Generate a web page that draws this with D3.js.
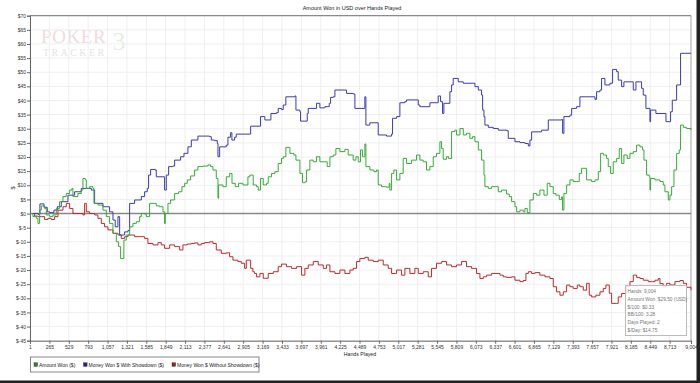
<!DOCTYPE html>
<html><head><meta charset="utf-8">
<script src="https://cdn.jsdelivr.net/npm/d3@7"></script>
<style>
html,body{margin:0;padding:0;background:#fff;}
svg{display:block;font-family:"Liberation Sans",Arial,sans-serif;}
</style></head>
<body><svg id="c" width="700" height="383"></svg>
<script>
// ---------- data ----------
const title = "Amount Won in USD over Hands Played";
const xLabel = "Hands Played";
const yLabel = "$";
const xTickValues = [1,265,529,793,1057,1321,1585,1849,2113,2377,2641,2905,3169,3433,3697,3961,4225,4489,4753,5017,5281,5545,5809,6073,6337,6601,6865,7129,7393,7657,7921,8185,8449,8713,9004];
const yTickValues = [70,65,60,55,50,45,40,35,30,25,20,15,10,5,0,-5,-10,-15,-20,-25,-30,-35,-40,-45];
const seriesNames = ["Amount Won ($)","Money Won $ With Showdown ($)","Money Won $ Without Showdown ($)"];

const amountWonHands = [1,41,87,109,132,155,200,223,268,314,359,404,450,495,541,572,586,654,699,722,754,768,813,858,872,926,995,1040,1085,1131,1176,1208,1235,1267,1280,1312,1358,1403,1449,1494,1517,1562,1585,1630,1676,1721,1766,1812,1834,1844,1880,1916,1971,2025,2070,2107,2143,2189,2243,2288,2357,2425,2461,2493,2538,2561,2570,2629,2674,2720,2752,2797,2842,2901,2969,2996,3041,3087,3110,3141,3178,3223,3246,3291,3337,3382,3427,3450,3486,3541,3595,3623,3677,3713,3745,3768,3813,3859,3904,3949,3995,4049,4086,4131,4167,4222,4290,4335,4403,4440,4472,4503,4531,4562,4576,4630,4685,4721,4744,4789,4857,4894,4903,4926,4957,4994,5039,5084,5130,5198,5266,5311,5357,5402,5448,5493,5538,5584,5607,5629,5675,5702,5743,5788,5811,5857,5902,5947,5992,6029,6061,6107,6152,6184,6197,6243,6288,6334,6379,6424,6492,6529,6561,6606,6629,6674,6719,6742,6774,6810,6856,6901,6946,7001,7046,7083,7128,7164,7210,7242,7255,7273,7310,7355,7400,7446,7482,7514,7559,7582,7650,7696,7741,7773,7809,7854,7877,7909,7945,7991,8027,8059,8090,8136,8172,8218,8263,8309,8345,8363,8399,8436,8445,8454,8513,8581,8626,8649,8694,8717,8740,8772,8808,8844,8862,8899,8944,9004];
const amountWonValues = [0,-1.1,-1.7,-3.5,1.2,2.7,1.8,-0.5,-1.1,-0.5,1.8,4.2,6.0,7.1,8.3,8.9,6.0,7.1,8.3,12.4,11.9,8.9,9.5,8.9,3.6,3.0,1.2,-1.1,-3.5,-7.0,-10.0,-11.7,-15.9,-15.9,-9.4,-7.6,-4.7,-3.5,-2.9,-1.1,0,-0.2,-1.1,3.6,3.6,2.7,2.4,0.6,-3.5,0,3.6,4.8,7.1,7.7,9.5,10.7,11.9,13.3,15.4,16.6,16.8,17.2,16.6,15.4,12.4,5.4,10.1,9.5,13.0,14.2,10.7,9.5,10.7,10.1,13.0,13.6,10.1,9.5,8.3,12.4,10.1,10.7,13.0,14.2,14.8,17.7,19.5,20.1,23.4,21.3,20.7,18.9,14.2,10.9,11.2,15.4,18.9,18.3,20.1,18.3,18.3,16.6,20.1,20.7,23.0,21.9,22.7,20.7,18.9,20.1,18.3,22.5,20.1,24.6,16.6,15.4,14.8,15.4,10.1,9.5,9.3,10.7,8.3,14.2,15.4,11.9,14.2,19.5,17.7,18.9,20.7,18.9,18.3,15.4,16.6,20.1,21.3,25.4,23.0,19.2,20.1,19.5,29.0,29.5,27.8,30.1,27.8,28.4,26.6,27.2,25.4,22.5,18.9,13.6,9.5,8.9,9.5,9.5,7.7,8.3,6.9,6.0,4.2,2.4,0.6,1.2,0.6,1.8,0.3,4.8,7.1,6.5,8.3,6.5,10.7,9.5,7.1,6.5,5.0,5.9,1.2,7.1,10.1,11.9,11.3,11.3,14.2,16.0,16.0,11.9,11.3,11.9,14.8,21.3,20.7,19.5,16.6,14.2,18.3,19.5,23.0,17.7,20.7,19.5,21.3,21.9,24.2,23.6,22.5,18.9,13.6,13.0,8.3,12.4,11.9,11.3,10.1,7.7,4.8,6.5,9.5,15.4,21.3,22.5,31.3,30.5,30.1,29.5];

const withShowdownHands = [1,109,136,191,236,268,327,373,427,518,609,699,836,881,995,1085,1131,1162,1199,1222,1290,1335,1358,1426,1517,1562,1598,1616,1644,1707,1721,1834,1857,1889,1948,1971,2052,2098,2152,2198,2288,2447,2470,2515,2552,2561,2584,2674,2697,2733,2751,2788,2810,3006,3141,3200,3282,3359,3382,3427,3450,3486,3609,3623,3677,3686,3777,3791,3904,3949,4018,4077,4095,4131,4154,4313,4403,4426,4562,4576,4630,4744,4857,4926,4939,4994,5039,5107,5130,5289,5311,5448,5561,5593,5620,5638,5720,5743,5765,5834,5902,6061,6107,6152,6166,6184,6197,6243,6311,6379,6492,6515,6606,6674,6742,6788,6810,6833,6969,7060,7242,7255,7273,7355,7378,7446,7491,7696,7718,7764,7786,7832,7900,7936,7991,8013,8059,8090,8218,8254,8331,8354,8390,8445,8454,8526,8663,8726,8749,8808,8862,9004];
const withShowdownValues = [0,-0.3,3.4,2.2,0.6,0.3,1.2,2.4,4.2,6.5,7.7,8.9,8.3,3.6,2.4,0.6,-2.3,-4.7,-1.1,-7.6,-6.5,-6.0,3.6,4.8,6.0,7.7,8.9,13.6,15.6,15.4,13.0,8.3,13.6,16.6,16.8,18.9,20.1,21.3,23.6,26.0,27.4,27.2,26.0,25.8,24.8,20.1,23.6,24.2,27.0,28.6,26.0,27.0,28.1,30.9,34.3,33.1,35.4,35.7,37.2,36.8,38.4,41.3,41.6,36.6,36.0,32.7,35.4,37.2,39.0,37.4,37.8,39.0,41.1,41.3,43.7,42.5,42.3,37.2,41.3,31.3,32.1,27.8,27.4,28.1,33.7,34.3,39.2,39.6,40.2,38.4,37.8,39.2,41.6,39.6,35.4,39.0,43.1,45.5,47.8,46.6,46.1,44.9,43.7,41.9,36.6,34.3,31.3,30.5,30.1,29.5,29.3,26.6,25.4,25.1,24.8,23.9,26.0,28.9,29.5,33.1,33.3,28.4,34.3,34.8,37.2,37.8,41.3,40.4,43.1,43.7,47.8,45.5,46.1,51.0,50.2,47.2,44.9,46.6,43.7,46.6,44.3,41.9,37.2,32.5,36.6,35.4,32.5,36.0,40.1,45.5,56.7,56.7];

const withoutShowdownHands = [1,64,109,155,200,245,291,336,382,450,495,541,586,654,722,745,768,813,881,926,972,1017,1063,1131,1199,1244,1290,1335,1380,1426,1494,1562,1607,1676,1744,1789,1834,1903,1971,2016,2039,2084,2143,2198,2243,2288,2334,2379,2447,2493,2538,2606,2674,2720,2765,2833,2879,2924,2947,2969,3006,3037,3060,3087,3132,3178,3246,3314,3382,3427,3495,3564,3632,3700,3745,3791,3859,3927,3995,4040,4086,4154,4222,4290,4358,4403,4449,4494,4562,4608,4676,4744,4812,4880,4926,4994,5062,5107,5175,5243,5289,5357,5425,5470,5538,5607,5675,5743,5811,5879,5947,6015,6083,6129,6175,6220,6288,6334,6402,6447,6492,6561,6606,6674,6719,6756,6788,6833,6878,6946,7015,7083,7128,7173,7219,7264,7310,7355,7400,7455,7491,7537,7582,7618,7650,7709,7764,7809,7845,7891,7923,7991,8013,8059,8127,8172,8218,8263,8309,8354,8422,8481,8513,8558,8581,8626,8672,8717,8785,8853,8899,8944,9004];
const withoutShowdownValues = [0,-0.9,-1.1,-1.1,-2.1,-1.7,-2.1,-1.1,1.2,2.4,3.6,1.8,0,0,-0.5,3.6,0.6,0,-0.5,-1.7,-3.5,-4.7,-5.8,-7.0,-7.6,-8.8,-8.2,-7.6,-7.6,-8.2,-8.2,-8.8,-10.6,-11.1,-10.3,-11.1,-12.3,-11.1,-11.7,-11.7,-12.9,-11.1,-10.8,-10.6,-10.4,-11.1,-10.6,-10.3,-10.0,-10.6,-12.9,-14.1,-13.9,-15.3,-16.5,-17.0,-17.6,-19.4,-16.5,-16.5,-19.4,-20.6,-21.2,-22.4,-21.2,-22.9,-21.2,-20.6,-18.8,-17.9,-18.8,-19.4,-18.8,-21.8,-19.4,-18.2,-17.0,-18.2,-19.4,-18.2,-20.6,-21.2,-20.0,-21.2,-20.0,-19.4,-17.0,-15.9,-15.5,-16.5,-17.0,-16.5,-18.2,-19.4,-21.2,-20.0,-21.8,-19.4,-21.2,-19.4,-21.2,-20.6,-22.4,-19.4,-17.6,-17.0,-18.2,-18.8,-18.2,-17.0,-18.8,-19.4,-21.2,-23.0,-22.4,-21.8,-21.2,-21.2,-21.8,-22.4,-22.6,-22.4,-23.6,-24.1,-23.7,-21.2,-20.6,-21.2,-20.9,-21.8,-22.4,-23.0,-25.9,-27.7,-28.9,-27.7,-25.3,-25.9,-26.5,-25.3,-25.9,-27.1,-24.7,-28.9,-29.5,-28.9,-27.7,-26.5,-25.3,-28.2,-31.8,-31.8,-29.5,-28.3,-25.9,-24.1,-21.8,-22.6,-23.0,-23.6,-24.1,-24.1,-23.6,-23.0,-24.8,-25.9,-24.7,-25.3,-24.1,-23.7,-24.7,-26.1,-27.1];

const tooltipLines = ["Hands: 9,004","Amount Won: $29.50 (USD)","$/100: $0.33","BB/100: 3.28","Days Played: 2","$/Day: $14.75"];

// ---------- chart ----------
const svg = d3.select("#c");
const L = 30, R = 691, T = 15.7, B = 340.7;
const x = d3.scaleLinear().domain([1, 9004]).range([L, R]);
const y = d3.scaleLinear().domain([-45, 70]).range([B, T]);
const fmtY = v => v < 0 ? "$-" + Math.abs(v) : "$" + v;

// outer frame shadow
svg.append("rect").attr("x",0).attr("y",380.5).attr("width",700).attr("height",2.5).attr("fill","#222");
svg.append("rect").attr("x",696.5).attr("y",0).attr("width",3.5).attr("height",383).attr("fill","#222");

// watermark logo
const logo = svg.append("g").attr("font-family","'Liberation Serif','DejaVu Serif',serif");
logo.append("text").attr("x",41).attr("y",42.5).attr("font-size",19).attr("fill","#f0dcdc").attr("letter-spacing",0.6).text("POKER");
logo.append("text").attr("x",112.5).attr("y",50).attr("font-size",26).attr("fill","#e3efe3").text("3");
logo.append("text").attr("x",43).attr("y",55.5).attr("font-size",10).attr("fill","#e3e6e3").attr("letter-spacing",2.4).text("TRACKER");

// grid
svg.append("g").selectAll("line").data(xTickValues).join("line")
  .attr("x1",d=>x(d)).attr("x2",d=>x(d)).attr("y1",T).attr("y2",B)
  .attr("stroke","#efefef").attr("stroke-width",1);
svg.append("g").selectAll("line").data(yTickValues).join("line")
  .attr("x1",L).attr("x2",R).attr("y1",d=>y(d)).attr("y2",d=>y(d))
  .attr("stroke","#efefef").attr("stroke-width",1);

// plot border top/right
svg.append("line").attr("x1",L).attr("x2",R).attr("y1",T).attr("y2",T).attr("stroke","#8a8a8a").attr("stroke-width",1.2);
svg.append("line").attr("x1",R).attr("x2",R).attr("y1",T).attr("y2",B).attr("stroke","#aaa").attr("stroke-width",1);

// zero line
svg.append("line").attr("x1",L).attr("x2",R).attr("y1",y(0)).attr("y2",y(0)).attr("stroke","#888").attr("stroke-width",1.4);

// axes
const yAxis = svg.append("g").attr("transform",`translate(${L},0)`)
  .call(d3.axisLeft(y).tickValues(yTickValues).tickFormat(fmtY).tickSize(3).tickPadding(1));
const xAxis = svg.append("g").attr("transform",`translate(0,${B})`)
  .call(d3.axisBottom(x).tickValues(xTickValues).tickFormat(d3.format(",")).tickSize(3).tickPadding(1.5));
[xAxis,yAxis].forEach(a=>{
  a.select(".domain").attr("stroke","#666");
  a.selectAll(".tick line").attr("stroke","#666");
  a.selectAll("text").attr("font-size",5).attr("fill","#333").attr("font-family","'Liberation Sans',Arial,sans-serif");
});

// lines
function drawSeries(hands, values, color, curve){
  const pts = hands.map((h,i)=>[h, values[i]]);
  svg.append("path").datum(pts)
    .attr("fill","none").attr("stroke",color).attr("stroke-width",1)
    .attr("stroke-linejoin","round")
    .attr("d", d3.line().x(d=>x(d[0])).y(d=>y(d[1])).curve(curve));
}
drawSeries(withoutShowdownHands, withoutShowdownValues, "#bb2b2b", d3.curveStepAfter);
drawSeries(withShowdownHands, withShowdownValues, "#3b3bb3", d3.curveStepAfter);
drawSeries(amountWonHands, amountWonValues, "#34ad34", d3.curveStepAfter);

// titles
svg.append("text").attr("x",352).attr("y",10).attr("text-anchor","middle").attr("font-size",5.5).attr("fill","#222").text(title);
svg.append("text").attr("x",360).attr("y",355.5).attr("text-anchor","middle").attr("font-size",5.2).attr("fill","#222").text(xLabel);
svg.append("text").attr("transform","translate(14.5,188) rotate(-90)").attr("text-anchor","middle").attr("font-size",5.5).attr("fill","#222").text(yLabel);

// legend
const lg = svg.append("g");
lg.append("rect").attr("x",30.5).attr("y",357).attr("width",228.5).attr("height",15).attr("fill","#fff").attr("stroke","#888").attr("stroke-width",1);
const legendColors = ["#1e8f1e","#1e1e99","#991e1e"];
const legendX = [34, 83.5, 172];
seriesNames.forEach((n,i)=>{
  lg.append("rect").attr("x",legendX[i]).attr("y",362.8).attr("width",3.6).attr("height",3.6).attr("fill",legendColors[i]).attr("stroke","#333").attr("stroke-width",0.4);
  lg.append("text").attr("x",legendX[i]+5).attr("y",366.6).attr("font-size",5).attr("fill","#222").text(n);
});

// tooltip
const tt = svg.append("g");
tt.append("rect").attr("x",625.5).attr("y",285.5).attr("width",61).attr("height",50).attr("fill","#fff").attr("fill-opacity",0.85).attr("stroke","#bbb").attr("stroke-width",1);
tooltipLines.forEach((t,i)=>{
  tt.append("text").attr("x",627.5).attr("y",293 + i*7.8).attr("font-size",4.8).attr("fill","#777").text(t);
});
</script></body></html>
